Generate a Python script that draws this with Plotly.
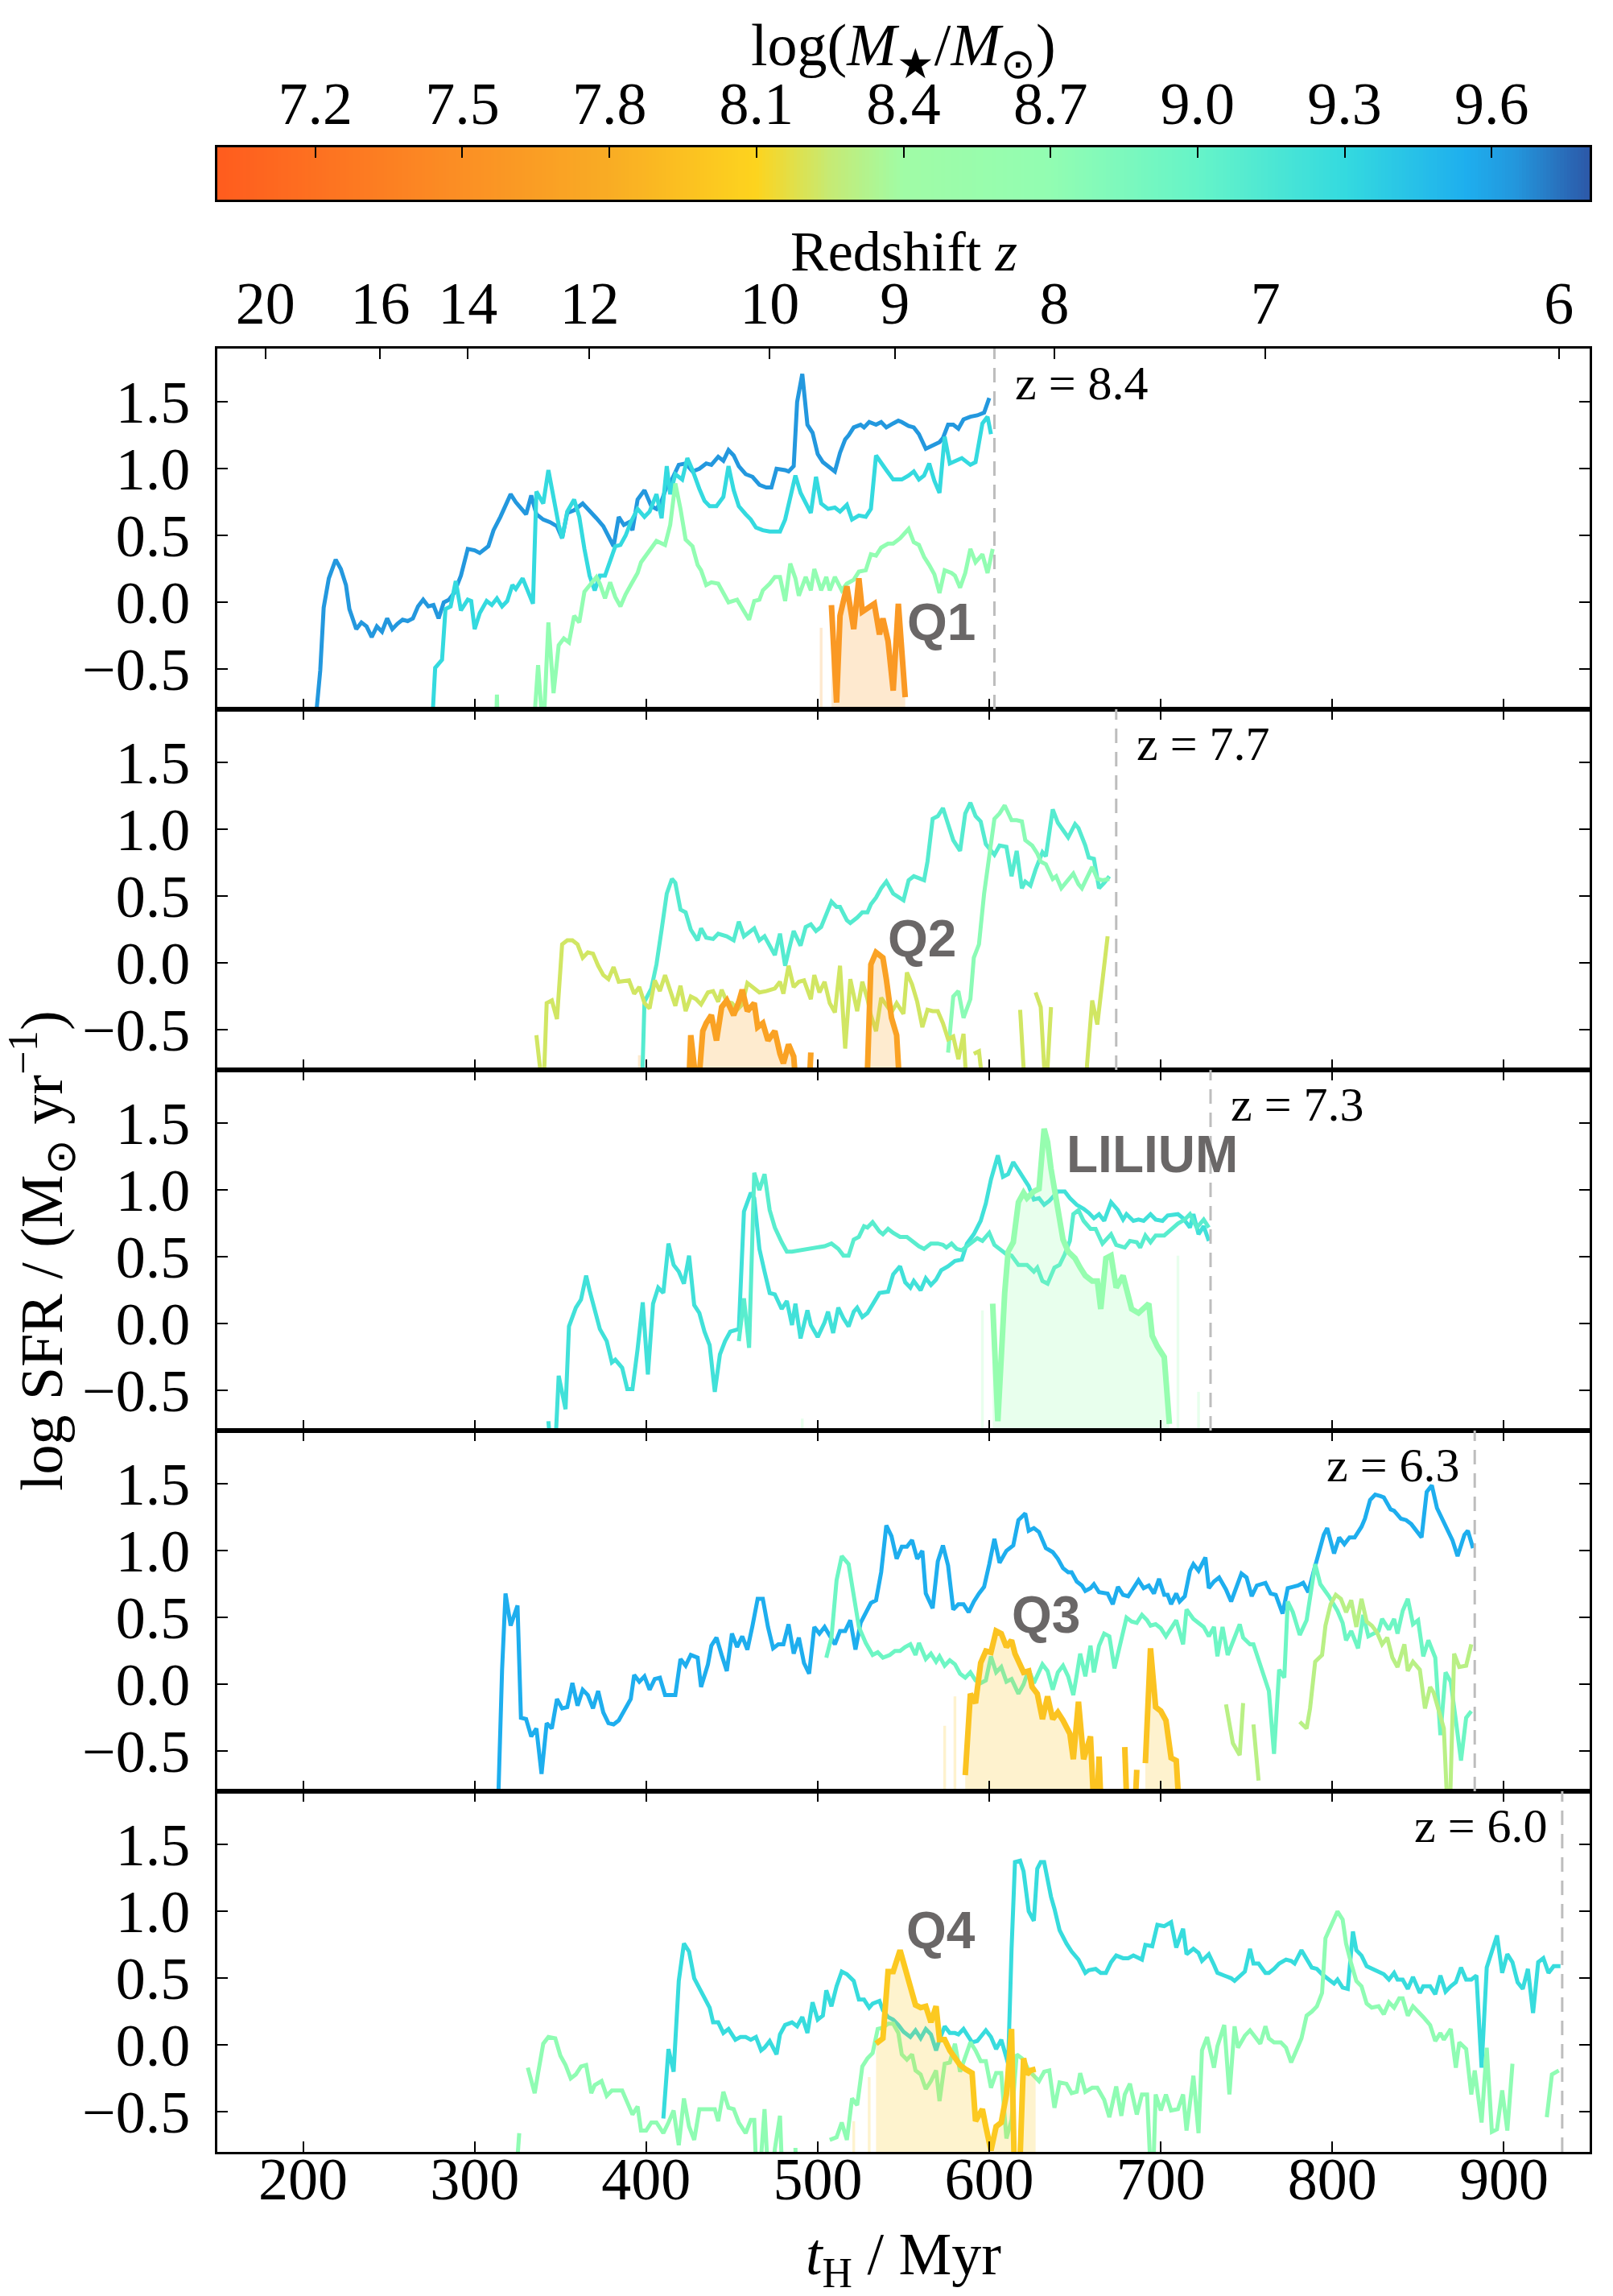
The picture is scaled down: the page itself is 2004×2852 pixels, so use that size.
import numpy as np
import plotly.graph_objects as go
from plotly.colors import sample_colorscale, unlabel_rgb

# ---------------------------------------------------------------
# Star-formation histories.
# Each series is a list of (t_H [Myr], log SFR [Msun/yr]);
# None marks a break in the track (SFR = 0 there).
# Thin lines: neighbour galaxies, thick line: the quenched galaxy.
# ---------------------------------------------------------------

# ---- panel 1 (snapshot z = 8.4) ----
p1_blue = [(205, -1.2), (210, -0.51), (212, -0.04), (215, 0.18), (219, 0.32), (222, 0.25), (225, 0.13),
           (227, -0.05), (231, -0.20), (234, -0.15), (237, -0.18), (240, -0.26), (243, -0.18), (246, -0.22),
           (249, -0.12), (252, -0.20), (255, -0.16), (258, -0.13), (261, -0.14), (264, -0.12), (267, -0.03),
           (270, 0.02), (273, -0.03), (276, -0.02), (279, -0.12), (282, 0.00), (285, 0.02), (288, 0.07),
           (292, 0.20), (294, 0.30), (296, 0.40), (300, 0.39), (303, 0.37), (308, 0.42), (311, 0.54),
           (315, 0.64), (318, 0.72), (321, 0.81), (324, 0.75), (327, 0.70), (330, 0.66), (333, 0.80),
           (336, 0.66), (340, 0.62), (344, 0.60), (348, 0.57), (351, 0.48), (354, 0.67), (358, 0.69),
           (363, 0.74), (367, 0.69), (371, 0.63), (375, 0.57), (378, 0.49), (381, 0.42), (384, 0.64),
           (387, 0.58), (390, 0.60), (392, 0.54), (395, 0.77), (399, 0.84), (403, 0.72), (406, 0.70),
           (409, 0.76), (412, 0.87), (415, 0.92), (419, 1.03), (423, 1.04), (427, 0.98), (431, 1.00),
           (435, 1.04), (438, 1.03), (442, 1.09), (445, 1.06), (448, 1.14), (451, 1.10), (454, 1.02),
           (458, 0.96), (462, 0.94), (466, 0.88), (470, 0.86), (473, 0.86), (476, 1.00), (481, 0.99),
           (483, 0.98), (486, 1.02), (488, 1.50), (491, 1.71), (494, 1.33), (497, 1.27), (500, 1.11),
           (503, 1.05), (507, 1.01), (510, 0.98), (513, 1.12), (516, 1.22), (518, 1.25), (521, 1.31),
           (525, 1.33), (527, 1.31), (530, 1.35), (534, 1.33), (537, 1.35), (540, 1.31), (544, 1.34),
           (547, 1.36), (549, 1.35), (553, 1.32), (556, 1.31), (559, 1.26), (563, 1.15), (566, 1.17),
           (571, 1.20), (573, 1.23), (576, 1.33), (579, 1.33), (582, 1.30), (585, 1.37), (589, 1.39),
           (593, 1.40), (597, 1.42), (600, 1.53)]
p1_cyan = [(274, -1.2), (277, -0.49), (281, -0.43), (283, -0.05), (286, -0.03), (289, 0.16), (292, -0.06),
           (296, 0.02), (298, 0.01), (300, -0.20), (303, -0.08), (307, 0.01), (310, -0.02), (313, 0.03),
           (316, -0.03), (319, 0.01), (322, 0.13), (324, 0.10), (328, 0.18), (331, 0.09), (334, -0.01),
           (336, 0.83), (340, 0.74), (343, 0.99), (346, 0.78), (349, 0.58), (351, 0.48), (354, 0.68),
           (358, 0.77), (361, 0.64), (364, 0.40), (367, 0.20), (370, 0.09), (373, 0.20), (376, 0.20),
           (379, 0.30), (382, 0.42), (385, 0.43), (388, 0.50), (391, 0.60), (395, 0.70), (399, 0.64),
           (402, 0.68), (406, 0.81), (409, 0.63), (412, 1.02), (414, 0.81), (417, 0.96), (421, 0.92),
           (424, 1.08), (427, 0.99), (431, 0.85), (434, 0.76), (437, 0.72), (441, 0.72), (445, 0.79),
           (448, 1.02), (451, 0.84), (454, 0.72), (458, 0.66), (461, 0.62), (464, 0.56), (468, 0.54),
           (472, 0.53), (478, 0.53), (481, 0.62), (484, 0.79), (487, 0.95), (490, 0.82), (493, 0.75),
           (496, 0.67), (499, 0.94), (502, 0.74), (506, 0.70), (510, 0.71), (513, 0.68), (517, 0.73),
           (520, 0.62), (524, 0.65), (528, 0.64), (531, 0.70), (534, 1.10), (538, 1.02), (540, 0.99),
           (544, 0.92), (549, 0.92), (553, 0.95), (556, 0.98), (559, 0.92), (562, 0.95), (565, 1.04),
           (568, 0.91), (571, 0.82), (574, 1.24), (577, 1.04), (580, 1.06), (584, 1.08), (589, 1.03),
           (592, 1.05), (596, 1.34), (599, 1.39), (601, 1.26)]
p1_green = [(312, -1.2), (313, -0.69), (314, -1.2), None,
            (333, -1.2), (337, -0.47), (340, -1.0), (343, -0.15), (346, -0.68), (349, -0.32), (352, -0.27),
            (355, -0.30), (358, -0.10), (361, -0.15), (364, 0.08), (368, 0.14), (371, 0.19), (373, 0.14),
            (376, 0.03), (379, 0.15), (382, 0.04), (385, -0.03), (388, 0.06), (391, 0.13), (395, 0.22),
            (397, 0.30), (400, 0.35), (404, 0.42), (406, 0.46), (411, 0.43), (414, 0.58), (417, 0.89),
            (420, 0.70), (423, 0.47), (427, 0.42), (430, 0.28), (432, 0.24), (435, 0.13), (438, 0.15),
            (442, 0.14), (444, 0.09), (448, 0.00), (453, 0.02), (457, -0.06), (460, -0.13), (463, 0.01),
            (466, 0.02), (468, 0.09), (472, 0.14), (475, 0.19), (478, 0.19), (481, 0.01), (484, 0.29),
            (487, 0.18), (489, 0.05), (493, 0.19), (496, 0.09), (498, 0.25), (502, 0.09), (505, 0.19),
            (507, 0.09), (510, 0.19), (514, 0.09), (517, 0.14), (521, 0.17), (524, 0.23), (528, 0.24),
            (531, 0.36), (534, 0.35), (537, 0.41), (541, 0.44), (544, 0.44), (548, 0.48), (553, 0.55),
            (556, 0.45), (559, 0.43), (562, 0.34), (565, 0.28), (568, 0.21), (571, 0.07), (574, 0.24),
            (578, 0.22), (580, 0.20), (583, 0.11), (586, 0.22), (589, 0.40), (592, 0.30), (596, 0.36),
            (599, 0.22), (602, 0.40)]
q1 = [(508, -0.02), (511, -0.75), (513, -0.10), (517, 0.12), (521, -0.20), (524, 0.18), (526, -0.07),
      (529, -0.04), (533, -0.01), (536, -0.24), (538, -0.12), (541, -0.29), (544, -0.66), (547, -0.01),
      (551, -0.71)]
q1_spikes = [(502, -0.19)]

# ---- panel 2 (snapshot z = 7.7) ----
p2_turq = [(397, -1.2), (399, -0.29), (403, -0.19), (406, -0.01), (409, 0.25), (412, 0.52), (415, 0.63),
           (417, 0.60), (420, 0.40), (423, 0.38), (426, 0.25), (430, 0.17), (432, 0.26), (435, 0.19),
           (439, 0.18), (442, 0.22), (447, 0.20), (451, 0.17), (454, 0.31), (457, 0.20), (463, 0.26),
           (466, 0.17), (469, 0.20), (475, 0.06), (478, 0.22), (481, -0.02), (484, 0.14), (486, 0.24),
           (490, 0.13), (493, 0.27), (496, 0.29), (499, 0.24), (502, 0.27), (508, 0.46), (511, 0.42),
           (513, 0.42), (517, 0.32), (519, 0.30), (523, 0.34), (526, 0.38), (529, 0.38), (531, 0.44),
           (534, 0.49), (537, 0.56), (540, 0.61), (544, 0.52), (550, 0.47), (553, 0.62), (556, 0.65),
           (562, 0.62), (564, 0.76), (567, 1.08), (570, 1.10), (573, 1.16), (576, 1.04), (579, 0.92),
           (583, 0.84), (586, 1.12), (589, 1.20), (592, 1.10), (595, 1.06), (598, 0.89), (603, 0.81),
           (606, 0.88), (610, 0.87), (613, 0.65), (616, 0.84), (619, 0.56), (621, 0.61), (624, 0.58),
           (627, 0.70), (631, 0.83), (633, 0.80), (637, 1.15), (640, 1.05), (643, 1.00), (646, 0.94),
           (650, 1.04), (652, 1.01), (656, 0.88), (658, 0.79), (661, 0.78), (664, 0.56), (667, 0.60),
           (670, 0.65)]
p2_green = [(576, -0.67), (579, -0.25), (582, -0.21), (585, -0.41), (589, -0.27), (591, 0.04), (594, 0.14),
            (597, 0.52), (600, 0.80), (603, 1.08), (606, 1.12), (609, 1.18), (613, 1.07), (616, 1.07),
            (619, 1.06), (621, 0.92), (625, 0.88), (628, 0.82), (630, 0.76), (633, 0.74), (637, 0.63),
            (639, 0.65), (642, 0.56), (646, 0.62), (649, 0.67), (652, 0.59), (654, 0.56), (657, 0.64),
            (660, 0.72), (663, 0.63), (666, 0.62), (670, 0.63)]
p2_lime = [(336, -0.54), (340, -1.0), (342, -0.30), (345, -0.28), (348, -0.42), (351, 0.14), (354, 0.17),
           (357, 0.17), (360, 0.14), (363, 0.04), (366, 0.08), (369, 0.07), (372, -0.02), (375, -0.09),
           (378, -0.12), (381, -0.03), (384, -0.14), (390, -0.13), (393, -0.23), (396, -0.18), (399, -0.30),
           (402, -0.34), (405, -0.13), (408, -0.21), (411, -0.09), (415, -0.25), (417, -0.32), (420, -0.17),
           (423, -0.36), (426, -0.25), (429, -0.27), (432, -0.31), (436, -0.22), (439, -0.21), (442, -0.29),
           (444, -0.20), (447, -0.29), (450, -0.30), (453, -0.35), (456, -0.31), (459, -0.15), (463, -0.19),
           (466, -0.22), (470, -0.21), (475, -0.19), (478, -0.14), (480, -0.23), (483, -0.02), (486, -0.18),
           (489, -0.14), (492, -0.13), (496, -0.27), (498, -0.09), (501, -0.22), (504, -0.14), (507, -0.30),
           (510, -0.37), (513, -0.02), (516, -0.64), (519, -0.12), (523, -0.36), (526, -0.14), (529, -0.27),
           (531, -0.39), (534, -0.51), (537, -0.26), (540, -0.32), (543, -0.37), (546, -0.30), (550, -0.38),
           (552, -0.07), (555, -0.16), (558, -0.29), (561, -0.48), (564, -0.35), (567, -0.36), (570, -0.36),
           (573, -0.45), (576, -0.57), (579, -0.55), (582, -0.72), (585, -0.53), (588, -1.2), None,
           (591, -0.68), (594, -0.66), (597, -1.0), None,
           (618, -0.35), (621, -1.0), None,
           (627, -0.22), (630, -0.33), (633, -1.0), (636, -0.33), None,
           (656, -1.2), (657, -0.76), (660, -0.28), (663, -0.46), (669, 0.20)]
q2 = [(424, -1.2), (426, -0.54), (430, -1.0), (433, -0.51), (435, -0.45), (438, -0.39), (441, -0.58),
      (444, -0.33), (447, -0.28), (451, -0.39), (454, -0.29), (456, -0.20), (459, -0.36), (463, -0.30),
      (465, -0.48), (468, -0.45), (471, -0.58), (475, -0.51), (478, -0.68), (480, -0.75), (483, -0.61),
      (486, -0.70), (489, -1.2), None,
      (494, -1.2), (496, -0.67), None,
      (528, -1.2), (531, -0.01), (534, 0.08), (538, 0.04), (540, -0.12), (543, -0.41), (546, -0.54),
      (549, -1.2)]
q2_spikes = [(396, -0.69)]

# ---- panel 3 (snapshot z = 7.3) ----
p3_cyan = [(343, -0.73), (346, -1.2), (349, -0.39), (353, -0.64), (355, -0.02), (359, 0.12), (362, 0.18),
           (365, 0.36), (367, 0.25), (371, 0.05), (373, -0.04), (377, -0.13), (380, -0.29), (382, -0.27),
           (386, -0.33), (389, -0.49), (392, -0.49), (395, -0.19), (398, 0.16), (401, -0.38), (404, 0.15),
           (407, 0.27), (410, 0.23), (413, 0.60), (416, 0.44), (419, 0.39), (422, 0.30), (425, 0.51),
           (428, 0.14), (431, 0.08), (434, -0.06), (437, -0.16), (440, -0.51), (443, -0.23), (446, -0.13),
           (449, -0.06), (454, -0.04), (457, 0.84), (461, 0.98), (463, 0.94), (466, 0.56), (469, 0.39),
           (472, 0.23), (475, 0.22), (479, 0.11), (482, 0.17), (485, -0.01), (487, 0.15), (490, -0.11),
           (494, 0.10), (496, -0.01), (500, -0.10), (504, 0.01), (506, 0.09), (509, -0.07), (512, 0.12),
           (515, 0.04), (518, -0.02), (521, 0.09), (523, 0.12), (526, 0.05), (529, 0.08), (532, 0.15),
           (536, 0.23), (541, 0.24), (544, 0.37), (548, 0.43), (551, 0.31), (554, 0.27), (556, 0.32),
           (560, 0.25), (563, 0.34), (566, 0.29), (569, 0.33), (572, 0.40), (576, 0.43), (580, 0.47),
           (584, 0.48), (587, 0.60), (591, 0.67), (595, 0.77), (598, 0.90), (601, 1.08), (605, 1.26),
           (608, 1.10), (611, 1.12), (614, 1.21), (617, 1.15), (620, 1.10), (623, 1.03), (626, 0.93),
           (629, 0.94), (632, 0.89), (635, 0.92), (640, 0.99), (644, 0.99), (647, 0.94), (651, 0.89),
           (655, 0.86), (658, 0.83), (661, 0.79), (664, 0.82), (667, 0.77), (671, 0.91), (675, 0.85),
           (678, 0.78), (680, 0.82), (684, 0.77), (687, 0.78), (690, 0.77), (694, 0.82), (697, 0.78),
           (701, 0.77), (704, 0.81), (710, 0.82), (713, 0.79), (717, 0.72), (719, 0.82), (722, 0.67),
           (725, 0.73), (728, 0.62)]
p3_turq = [(454, -0.13), (457, 0.19), (460, -0.18), (463, 1.13), (466, 1.00), (469, 1.12), (472, 0.85),
           (475, 0.72), (479, 0.61), (482, 0.54), (485, 0.54), (490, 0.55), (496, 0.56), (500, 0.57),
           (504, 0.58), (508, 0.60), (512, 0.56), (515, 0.51), (518, 0.51), (521, 0.63), (524, 0.65),
           (527, 0.73), (529, 0.72), (532, 0.76), (536, 0.69), (538, 0.67), (541, 0.71), (544, 0.68),
           (548, 0.65), (552, 0.65), (556, 0.61), (559, 0.58), (562, 0.56), (566, 0.60), (570, 0.60),
           (573, 0.59), (575, 0.57), (578, 0.60), (581, 0.56), (584, 0.55), (588, 0.59), (593, 0.64),
           (596, 0.62), (600, 0.68), (603, 0.59), (607, 0.55), (610, 0.52), (613, 0.51), (617, 0.44),
           (622, 0.44), (626, 0.39), (628, 0.42), (631, 0.32), (634, 0.30), (638, 0.42), (641, 0.44),
           (644, 0.52), (647, 0.62), (649, 0.82), (652, 0.85), (655, 0.77), (659, 0.71), (662, 0.71),
           (666, 0.60), (671, 0.67), (674, 0.59), (679, 0.57), (682, 0.62), (686, 0.61), (688, 0.57),
           (691, 0.66), (694, 0.61), (697, 0.66), (702, 0.66), (706, 0.71), (710, 0.75), (714, 0.78),
           (717, 0.82), (721, 0.72), (725, 0.78), (728, 0.72)]
lilium = [(602, 0.15), (605, -0.73), (609, 0.23), (611, 0.54), (614, 0.61), (617, 0.91), (620, 0.98),
          (622, 0.94), (626, 0.99), (629, 1.01), (632, 1.46), (634, 1.36), (636, 1.16), (640, 0.84),
          (643, 0.63), (646, 0.54), (650, 0.49), (653, 0.42), (656, 0.36), (660, 0.32), (663, 0.32),
          (665, 0.11), (668, 0.49), (671, 0.51), (674, 0.27), (678, 0.36), (680, 0.27), (683, 0.11),
          (687, 0.08), (690, 0.11), (693, 0.15), (695, -0.09), (698, -0.17), (702, -0.25), (705, -0.75)]
lilium_spikes = [(491, -0.71), (596, 0.10), (710, 0.51), (722, -0.51)]

# ---- panel 4 (snapshot z = 6.3) ----
p4_blue = [(313, -1.2), (316, 0.11), (318, 0.68), (321, 0.44), (325, 0.59), (327, -0.25), (330, -0.26),
           (333, -0.39), (336, -0.33), (339, -0.67), (342, -0.29), (345, -0.33), (348, -0.11), (351, -0.18),
           (354, -0.17), (357, 0.01), (360, -0.16), (363, -0.04), (366, -0.08), (369, -0.18), (372, -0.05),
           (375, -0.21), (378, -0.29), (381, -0.30), (384, -0.27), (387, -0.20), (391, -0.11), (393, 0.07),
           (396, 0.02), (399, 0.06), (402, -0.04), (405, 0.04), (408, 0.05), (411, -0.08), (417, -0.08),
           (420, 0.19), (423, 0.14), (426, 0.22), (430, 0.20), (432, -0.02), (436, 0.15), (438, 0.29),
           (441, 0.35), (444, 0.22), (447, 0.10), (450, 0.38), (453, 0.28), (456, 0.36), (459, 0.26),
           (462, 0.44), (465, 0.64), (468, 0.64), (471, 0.43), (474, 0.27), (477, 0.30), (480, 0.30),
           (483, 0.45), (486, 0.23), (489, 0.35), (492, 0.16), (495, 0.08), (498, 0.43), (501, 0.38),
           (504, 0.43), (507, 0.37), (510, 0.30), (513, 0.40), (516, 0.40), (519, 0.48), (522, 0.26),
           (525, 0.46), (528, 0.53), (531, 0.61), (534, 0.63), (537, 0.84), (540, 1.19), (543, 1.11),
           (546, 0.94), (549, 1.03), (552, 1.03), (555, 1.08), (558, 0.94), (561, 1.00), (563, 0.68),
           (567, 0.57), (570, 0.92), (573, 1.04), (576, 0.89), (579, 0.56), (582, 0.60), (585, 0.60),
           (588, 0.54), (591, 0.62), (594, 0.68), (597, 0.73), (600, 0.90), (603, 1.09), (606, 0.91),
           (610, 1.00), (614, 1.04), (617, 1.23), (621, 1.28), (623, 1.15), (626, 1.17), (629, 1.14),
           (633, 1.02), (637, 0.99), (640, 0.94), (643, 0.87), (646, 0.84), (648, 0.84), (651, 0.77),
           (654, 0.74), (656, 0.70), (659, 0.72), (661, 0.75), (664, 0.69), (669, 0.68), (672, 0.60),
           (675, 0.73), (678, 0.67), (681, 0.66), (684, 0.72), (687, 0.78), (690, 0.72), (693, 0.74),
           (696, 0.68), (699, 0.79), (702, 0.67), (704, 0.67), (706, 0.60), (709, 0.68), (711, 0.62),
           (714, 0.66), (717, 0.85), (719, 0.90), (722, 0.85), (726, 0.95), (728, 0.72), (731, 0.77),
           (734, 0.80), (736, 0.76), (738, 0.71), (741, 0.62), (744, 0.73), (747, 0.83), (750, 0.80),
           (753, 0.66), (756, 0.74), (758, 0.75), (761, 0.76), (764, 0.68), (767, 0.67), (771, 0.53),
           (774, 0.72), (777, 0.73), (780, 0.74), (783, 0.76), (786, 0.69), (789, 0.84), (792, 0.98),
           (795, 1.12), (797, 1.17), (801, 0.98), (804, 1.10), (807, 1.05), (810, 1.10), (813, 1.10),
           (817, 1.18), (819, 1.24), (822, 1.38), (825, 1.42), (828, 1.41), (830, 1.40), (834, 1.31),
           (836, 1.30), (840, 1.24), (843, 1.23), (846, 1.20), (849, 1.15), (852, 1.10), (855, 1.44),
           (858, 1.49), (861, 1.32), (864, 1.24), (867, 1.16), (870, 1.08), (873, 0.96), (877, 1.12),
           (879, 1.15), (882, 1.02)]
p4_aqua = [(505, 0.20), (508, 0.35), (511, 0.78), (514, 0.96), (518, 0.90), (521, 0.64), (524, 0.43),
           (528, 0.31), (532, 0.22), (535, 0.24), (538, 0.20), (542, 0.22), (545, 0.25), (548, 0.25),
           (551, 0.28), (554, 0.30), (557, 0.22), (559, 0.31), (563, 0.19), (566, 0.23), (569, 0.17),
           (571, 0.21), (574, 0.14), (577, 0.18), (580, 0.15), (583, 0.08), (586, 0.05), (589, 0.09),
           (592, 0.03), (595, 0.01), (598, 0.03), (601, 0.21), (604, 0.09), (607, 0.13), (610, 0.02),
           (613, 0.04), (617, -0.07), (620, 0.00), (623, 0.11), (626, 0.01), (629, 0.10), (631, 0.15),
           (634, 0.10), (637, -0.04), (640, 0.09), (643, 0.14), (646, 0.06), (649, -0.08), (651, 0.07),
           (653, 0.23), (656, 0.06), (659, 0.29), (661, 0.09), (664, 0.29), (667, 0.38), (670, 0.36),
           (673, 0.12), (677, 0.35), (680, 0.50), (683, 0.47), (686, 0.46), (689, 0.52), (692, 0.48),
           (694, 0.44), (697, 0.45), (700, 0.42), (703, 0.36), (706, 0.42), (709, 0.48), (713, 0.30),
           (715, 0.56), (719, 0.49), (722, 0.46), (725, 0.43), (728, 0.36), (731, 0.43), (733, 0.21),
           (736, 0.43), (739, 0.22), (742, 0.32), (746, 0.45), (748, 0.35), (752, 0.30), (754, 0.30),
           (757, 0.18), (760, 0.08), (763, -0.05), (766, -0.52), (769, 0.11), (772, 0.05), (774, 0.62),
           (777, 0.54), (781, 0.37), (785, 0.48), (788, 0.72), (790, 0.90), (793, 0.75), (798, 0.66),
           (803, 0.55), (806, 0.46), (808, 0.33), (811, 0.40), (815, 0.27), (818, 0.52), (821, 0.36),
           (824, 0.38), (827, 0.40), (829, 0.49), (833, 0.41), (836, 0.49), (838, 0.38), (841, 0.55),
           (844, 0.64), (847, 0.45), (850, 0.48), (853, 0.21), (856, 0.33), (860, 0.20), (863, -0.38),
           (866, 0.09), (869, 0.02), (872, -0.27), (875, -0.57), (878, -0.25), (881, -0.20)]
p4_lime = [(738, -0.15), (742, -0.44), (746, -0.53), (748, -0.14), None,
           (754, -0.30), (757, -0.72), None,
           (781, -0.28), (785, -0.33), (787, -0.18), (790, 0.17), (794, 0.22), (796, 0.44), (799, 0.60),
           (802, 0.67), (805, 0.64), (808, 0.54), (811, 0.63), (814, 0.43), (817, 0.64), (820, 0.47),
           (823, 0.44), (826, 0.39), (829, 0.30), (832, 0.35), (835, 0.20), (838, 0.13), (842, 0.30),
           (844, 0.10), (847, 0.17), (851, 0.11), (854, -0.18), (857, -0.02), (859, -0.06), (862, -0.21),
           (865, -0.33), (868, -1.2), (871, 0.23), (874, 0.13), (878, 0.14), (881, 0.30)]
q3 = [(586, -0.68), (589, -0.07), (592, -0.14), (595, 0.16), (598, 0.25), (601, 0.24), (604, 0.40),
      (607, 0.38), (610, 0.28), (613, 0.33), (615, 0.23), (618, 0.13), (620, 0.09), (623, 0.10),
      (625, -0.02), (628, -0.07), (631, -0.26), (634, -0.09), (637, -0.26), (640, -0.21), (643, -0.27),
      (647, -0.37), (649, -0.56), (652, -0.13), (655, -0.56), (659, -0.39), (662, -1.2), (664, -0.54),
      (666, -1.2), None,
      (679, -0.47), (681, -1.2), None,
      (684, -1.2), (686, -0.64), None,
      (691, -0.59), (694, 0.27), (697, -0.17), (700, -0.20), (703, -0.27), (706, -0.55), (709, -0.57),
      (712, -1.2)]
q3_spikes = [(574, -0.31), (580, -0.09)]

# ---- panel 5 (snapshot z = 6.0) ----
p5_cyan = [(410, -0.55), (413, -0.03), (416, -0.20), (419, 0.48), (422, 0.76), (425, 0.70), (428, 0.50),
           (431, 0.43), (434, 0.35), (437, 0.28), (439, 0.17), (442, 0.17), (445, 0.09), (448, 0.12),
           (452, 0.04), (455, 0.06), (458, 0.06), (461, 0.04), (464, 0.06), (467, -0.04), (469, -0.02),
           (472, 0.03), (476, -0.07), (478, 0.08), (481, 0.15), (485, 0.17), (488, 0.14), (491, 0.21),
           (494, 0.09), (497, 0.32), (500, 0.19), (503, 0.22), (505, 0.41), (508, 0.29), (511, 0.44),
           (514, 0.55), (517, 0.53), (521, 0.48), (524, 0.34), (527, 0.34), (530, 0.28), (532, 0.31),
           (536, 0.33), (538, 0.26), (541, 0.21), (544, 0.19), (547, 0.15), (550, 0.10), (554, 0.06),
           (557, 0.11), (560, 0.05), (563, 0.12), (566, 0.08), (569, -0.04), (571, 0.04), (574, 0.14),
           (577, 0.09), (580, 0.09), (582, 0.08), (585, 0.12), (588, 0.06), (590, 0.02), (593, 0.03),
           (596, 0.08), (598, 0.11), (601, 0.06), (604, -0.03), (607, 0.04), (611, -0.14), (613, 0.72),
           (615, 1.37), (618, 1.38), (620, 1.30), (623, 1.00), (626, 0.93), (628, 1.32), (630, 1.37),
           (632, 1.37), (636, 1.11), (638, 1.02), (641, 0.86), (645, 0.76), (648, 0.70), (652, 0.64),
           (656, 0.54), (658, 0.56), (662, 0.57), (665, 0.54), (668, 0.54), (671, 0.62), (674, 0.67),
           (678, 0.65), (681, 0.65), (684, 0.67), (689, 0.64), (691, 0.75), (695, 0.74), (698, 0.90),
           (702, 0.89), (706, 0.92), (709, 0.73), (713, 0.87), (715, 0.68), (719, 0.72), (722, 0.69),
           (724, 0.63), (728, 0.68), (731, 0.60), (733, 0.54), (737, 0.52), (741, 0.50), (743, 0.48),
           (746, 0.52), (749, 0.55), (752, 0.72), (754, 0.61), (757, 0.61), (761, 0.54), (763, 0.54),
           (766, 0.57), (769, 0.61), (773, 0.64), (776, 0.63), (778, 0.61), (782, 0.71), (785, 0.64),
           (788, 0.58), (791, 0.57), (794, 0.53), (798, 0.49), (801, 0.46), (803, 0.49), (806, 0.43),
           (809, 0.42), (812, 0.85), (814, 0.71), (817, 0.67), (820, 0.59), (823, 0.57), (827, 0.55),
           (830, 0.53), (833, 0.49), (836, 0.54), (838, 0.49), (841, 0.49), (844, 0.42), (847, 0.51),
           (851, 0.39), (853, 0.44), (857, 0.44), (860, 0.38), (863, 0.52), (866, 0.40), (869, 0.44),
           (872, 0.47), (875, 0.58), (878, 0.49), (881, 0.49), (884, 0.52), (887, -0.17), (890, 0.58),
           (893, 0.70), (896, 0.82), (899, 0.54), (902, 0.68), (905, 0.62), (908, 0.47), (911, 0.42),
           (914, 0.57), (917, 0.24), (920, 0.62), (923, 0.65), (926, 0.54), (929, 0.59), (933, 0.59)]
p5_green = [(323, -1.2), (326, -0.66), None,
            (331, -0.17), (335, -0.36), (337, -0.21), (340, 0.01), (343, 0.06), (347, 0.05), (350, -0.08),
            (353, -0.15), (356, -0.25), (359, -0.22), (362, -0.16), (365, -0.15), (368, -0.36), (370, -0.30),
            (374, -0.27), (377, -0.38), (380, -0.34), (383, -0.34), (386, -0.34), (389, -0.43), (392, -0.52),
            (395, -0.46), (397, -0.64), (400, -0.64), (403, -0.58), (406, -0.58), (410, -0.66), (413, -0.58),
            (416, -0.49), (419, -0.75), (422, -0.40), (425, -0.61), (428, -0.71), (431, -0.48), (434, -0.48),
            (437, -0.48), (440, -0.48), (442, -0.57), (445, -0.35), (448, -0.47), (451, -0.48), (454, -0.58),
            (458, -0.66), (461, -0.56), (463, -0.56), (465, -1.2), (469, -0.48), (472, -1.2), (475, -0.78),
            (478, -0.53), (480, -1.2), None,
            (487, -0.77), (488, -1.2), None,
            (507, -0.71), (511, -0.69), (514, -0.58), (517, -0.71), (520, -0.40), (523, -0.45), (526, -0.16),
            (529, -0.10), (532, -0.06), (535, 0.12), (538, 0.13), (541, 0.16), (544, 0.16), (547, 0.09),
            (549, -0.07), (552, -0.11), (555, -0.07), (557, -0.19), (560, -0.22), (563, -0.33), (566, -0.27),
            (569, -0.19), (571, -0.42), (574, -0.14), (577, -0.13), (580, 0.01), (583, -0.20), (586, -0.09),
            (589, 0.02), (592, -0.04), (595, -0.12), (598, -0.12), (601, -0.32), (604, -0.21), (607, -0.21),
            (610, -0.70), (613, -0.56), (616, -0.07), (620, -0.11), (623, -0.19), (627, -0.25), (629, -0.27),
            (632, -0.20), (635, -0.19), (638, -0.47), (641, -0.28), (645, -0.29), (648, -0.36), (651, -0.35),
            (653, -0.21), (656, -0.35), (660, -0.32), (663, -0.32), (667, -0.41), (670, -0.54), (674, -0.31),
            (677, -0.53), (679, -0.37), (682, -0.29), (686, -0.52), (689, -0.37), (692, -0.37), (695, -1.2),
            (697, -0.37), (700, -0.49), (703, -0.37), (706, -0.49), (710, -0.48), (713, -0.37), (715, -0.64),
            (719, -0.23), (722, -0.66), (724, -0.04), (727, 0.06), (731, -0.17), (733, -0.01), (737, 0.15),
            (740, -0.37), (743, 0.14), (745, -0.02), (749, 0.07), (752, 0.11), (755, 0.06), (758, 0.01),
            (761, 0.14), (763, 0.05), (766, 0.02), (770, 0.02), (773, -0.02), (776, -0.13), (779, -0.04),
            (782, 0.05), (785, 0.22), (788, 0.25), (791, 0.29), (794, 0.39), (796, 0.80), (799, 0.88),
            (803, 1.00), (806, 0.94), (808, 0.76), (811, 0.61), (814, 0.48), (817, 0.44), (820, 0.31),
            (823, 0.28), (827, 0.29), (830, 0.23), (833, 0.32), (836, 0.28), (839, 0.35), (841, 0.35),
            (844, 0.22), (847, 0.29), (851, 0.24), (853, 0.21), (857, 0.15), (860, 0.03), (863, 0.09),
            (865, 0.04), (869, 0.12), (872, -0.17), (874, 0.02), (878, -0.03), (881, -0.37), (883, -0.19),
            (887, -0.58), (890, -0.02), (893, -0.65), (896, -0.63), (899, -0.34), (902, -0.64), (905, -0.14),
            None,
            (925, -0.54), (928, -0.22), (932, -0.19)]
q4 = [(534, 0.01), (538, 0.05), (541, 0.55), (544, 0.55), (548, 0.71), (551, 0.56), (554, 0.43), (557, 0.30),
      (560, 0.28), (563, 0.29), (566, 0.17), (569, 0.29), (571, 0.04), (574, 0.04), (577, -0.04), (580, -0.09),
      (583, -0.15), (586, -0.18), (590, -0.21), (592, -0.57), (596, -0.48), (598, -0.61), (601, -0.79),
      (604, -0.61), (607, -0.58), (610, -0.37), (613, 0.12), (615, -1.2), (617, -1.2), (620, -0.10),
      (622, -0.22), (624, -0.19), (627, -0.18)]
q4_spikes = [(521, -0.57), (530, -0.24)]

# stellar masses log(M*/Msun) that set the line colours
p1_masses = [9.64, 9.30, 8.70]
p2_masses = [9.10, 8.75, 8.22]
p3_masses = [9.22, 9.08]
p4_masses = [9.55, 8.95, 8.30]
p5_masses = [9.28, 8.72]
q_masses = [7.60, 7.70, 8.62, 7.97, 8.02]

# snapshot of each panel
snap_t = [603, 674, 729, 883, 934]
snap_z = ["8.4", "7.7", "7.3", "6.3", "6.0"]
q_names = ["Q1", "Q2", "LILIUM", "Q3", "Q4"]

# axes
t_ticks = [200, 300, 400, 500, 600, 700, 800, 900]
sfr_ticks = [-0.5, 0.0, 0.5, 1.0, 1.5]
z_labels = ["20", "16", "14", "12", "10", "9", "8", "7", "6"]
z_times = [178, 245, 296, 367, 472, 545, 638, 761, 932]
cbar_ticks = [7.2, 7.5, 7.8, 8.1, 8.4, 8.7, 9.0, 9.3, 9.6]

# ---------------------------------------------------------------
T_MIN, T_MAX = 150, 950
Y_MIN, Y_MAX = -0.8, 1.9
MASS_MIN, MASS_MAX = 7.0, 9.8
FILL_FLOOR = -2.0

mass_scale = [
    [0.0, "#ff5c1e"], [0.1786, "#fb8f24"], [0.2857, "#f9ac24"], [0.3929, "#fdd41e"],
    [0.4464, "#c6ea74"], [0.5, "#a0fca6"], [0.6071, "#92fdb2"], [0.7143, "#66f4c8"],
    [0.8214, "#34dadf"], [0.9107, "#1eaeee"], [0.9464, "#2396dc"], [1.0, "#2c58a8"],
]


def mass_color(m, alpha=None):
    c = sample_colorscale(mass_scale, [(m - MASS_MIN) / (MASS_MAX - MASS_MIN)])[0]
    r, g, b = unlabel_rgb(c)
    if alpha is None:
        return f"rgb({r:.0f},{g:.0f},{b:.0f})"
    return f"rgba({r:.0f},{g:.0f},{b:.0f},{alpha})"


def unzip(series):
    xs = [p[0] if p else None for p in series]
    ys = [p[1] if p else None for p in series]
    return xs, ys


def fill_polygon(series):
    # outline of the area under a track, dropped to the floor at every break
    xs, ys = [], []
    gap = True
    for p in series:
        if p is None:
            xs.append(xs[-1])
            ys.append(FILL_FLOOR)
            gap = True
            continue
        if gap:
            xs.append(p[0])
            ys.append(FILL_FLOOR)
            gap = False
        xs.append(p[0])
        ys.append(p[1])
    xs.append(xs[-1])
    ys.append(FILL_FLOOR)
    return xs, ys


panels = [
    dict(thin=[p1_blue, p1_cyan, p1_green], masses=p1_masses, q=q1, spikes=q1_spikes),
    dict(thin=[p2_turq, p2_green, p2_lime], masses=p2_masses, q=q2, spikes=q2_spikes),
    dict(thin=[p3_cyan, p3_turq], masses=p3_masses, q=lilium, spikes=lilium_spikes),
    dict(thin=[p4_blue, p4_aqua, p4_lime], masses=p4_masses, q=q3, spikes=q3_spikes),
    dict(thin=[p5_cyan, p5_green], masses=p5_masses, q=q4, spikes=q4_spikes),
]

# label placement (data coordinates of each panel)
q_label_pos = [(572, -0.15), (561, 0.18), (695, 1.27), (633, 0.52), (572, 0.86)]
Z_LABEL_Y = 1.64

# ---------------- page geometry (pixels) ----------------
FIG_W, FIG_H = 2004, 2852
M_L, M_R, M_T, M_B = 270, 29, 100, 179
PANEL_TOP, PANEL_H = 433, 448
CBAR_TOP, CBAR_BOT = 183, 248
PLOT_H = FIG_H - M_T - M_B
PLOT_W = FIG_W - M_L - M_R
BOTTOM_PX = FIG_H - M_B


def py(px):
    return (BOTTOM_PX - px) / PLOT_H


def px_x(px):
    return (px - M_L) / PLOT_W


fig = go.Figure()
layout = {}
annotations = []
shapes = []

axis_common = dict(showgrid=False, zeroline=False, showline=True, linewidth=3, linecolor="black",
                   ticks="inside", ticklen=13, tickwidth=2, tickcolor="black")

for i, pan in enumerate(panels):
    k = "" if i == 0 else str(i + 1)
    xref, yref = "x" + k, "y" + k

    # neighbour galaxies
    for series, m in zip(pan["thin"], pan["masses"]):
        xs, ys = unzip(series)
        fig.add_trace(go.Scatter(x=xs, y=ys, mode="lines", xaxis=xref, yaxis=yref,
                                 line=dict(color=mass_color(m), width=5), hoverinfo="skip"))

    qm = q_masses[i]
    # shaded history of the quenched galaxy
    fx, fy = fill_polygon(pan["q"])
    fig.add_trace(go.Scatter(x=fx, y=fy, mode="lines", fill="toself", xaxis=xref, yaxis=yref,
                             fillcolor=mass_color(qm, 0.22), line=dict(width=0), hoverinfo="skip"))
    st, sv = unzip(pan["spikes"])
    fig.add_trace(go.Bar(x=st, y=[v - Y_MIN for v in sv], base=Y_MIN, width=1.6, xaxis=xref, yaxis=yref,
                         marker=dict(color=mass_color(qm, 0.22), line=dict(width=0)), hoverinfo="skip"))
    xs, ys = unzip(pan["q"])
    fig.add_trace(go.Scatter(x=xs, y=ys, mode="lines", xaxis=xref, yaxis=yref,
                             line=dict(color=mass_color(qm), width=7), hoverinfo="skip"))

    top = PANEL_TOP + i * PANEL_H
    layout["xaxis" + k] = dict(axis_common, domain=[0, 1], anchor=yref, range=[T_MIN, T_MAX],
                               tickvals=t_ticks, mirror=True if i == 0 else "ticks",
                               showticklabels=(i == len(panels) - 1), ticklabelstandoff=-33)
    layout["yaxis" + k] = dict(axis_common, domain=[py(top + PANEL_H), py(top)], anchor=xref,
                               range=[Y_MIN, Y_MAX], tickvals=sfr_ticks, tickformat=".1f",
                               mirror="ticks", ticklabelstandoff=16)

    # snapshot marker
    shapes.append(dict(type="line", xref=xref, yref=yref + " domain", x0=snap_t[i], x1=snap_t[i],
                       y0=0, y1=1, line=dict(color="#bdbdbd", width=3, dash="18px,11px")))
    if i < 3:
        annotations.append(dict(xref=xref, yref=yref, x=snap_t[i] + 11, y=Z_LABEL_Y, xanchor="left",
                                yanchor="middle", showarrow=False, text="z = " + snap_z[i],
                                font=dict(size=60, family="Liberation Serif", color="black")))
    else:
        annotations.append(dict(xref=xref, yref=yref, x=snap_t[i] - 8, y=Z_LABEL_Y, xanchor="right",
                                yanchor="middle", showarrow=False, text="z = " + snap_z[i],
                                font=dict(size=60, family="Liberation Serif", color="black")))
    qx, qy = q_label_pos[i]
    annotations.append(dict(xref=xref, yref=yref, x=qx, y=qy, xanchor="center", yanchor="middle",
                            showarrow=False, text="<b>" + q_names[i] + "</b>",
                            font=dict(size=64, family="Liberation Sans", color="#6a6767")))

# redshift axis on top of the first panel
fig.add_trace(go.Scatter(x=z_times, y=[None] * len(z_times), xaxis="x7", yaxis="y",
                         mode="lines", hoverinfo="skip"))
layout["xaxis7"] = dict(overlaying="x", anchor="y", side="top", range=[T_MIN, T_MAX],
                        tickvals=z_times, ticktext=z_labels, showgrid=False, zeroline=False,
                        showline=False, ticks="inside", ticklen=13, tickwidth=2, tickcolor="black",
                        ticklabelstandoff=15)

# stellar-mass colour bar
mass_grid = np.linspace(MASS_MIN, MASS_MAX, 400)
fig.add_trace(go.Heatmap(x=mass_grid, y=[0], z=[mass_grid], colorscale=mass_scale, zmin=MASS_MIN,
                         zmax=MASS_MAX, showscale=False, xaxis="x6", yaxis="y6", hoverinfo="skip"))
layout["xaxis6"] = dict(axis_common, domain=[0, 1], anchor="y6", side="top", range=[MASS_MIN, MASS_MAX],
                        tickvals=cbar_ticks, tickformat=".1f", mirror=True, ticklabelstandoff=-4)
layout["yaxis6"] = dict(domain=[py(CBAR_BOT), py(CBAR_TOP)], anchor="x6", range=[-0.5, 0.5],
                        showticklabels=False, ticks="", showgrid=False, zeroline=False,
                        showline=True, linewidth=3, linecolor="black", mirror=True)

# titles
annotations += [
    dict(xref="paper", yref="paper", x=0.5, y=py(62), xanchor="center", yanchor="middle", showarrow=False,
         text="log(<i>M</i><sub>★</sub>/<i>M</i><sub>⊙</sub>)", font=dict(size=74)),
    dict(xref="paper", yref="paper", x=0.5, y=py(313), xanchor="center", yanchor="middle", showarrow=False,
         text="Redshift <i>z</i>", font=dict(size=70)),
    dict(xref="paper", yref="paper", x=0.5, y=py(2805), xanchor="center", yanchor="middle", showarrow=False,
         text="<i>t</i><sub>H</sub> / Myr", font=dict(size=74)),
    dict(xref="paper", yref="paper", x=px_x(52), y=py(1553), xanchor="center", yanchor="middle",
         showarrow=False, textangle=-90, text="log SFR / (M<sub>⊙</sub> yr<sup>−1</sup>)",
         font=dict(size=74)),
]

fig.update_layout(
    width=FIG_W, height=FIG_H,
    margin=dict(l=M_L, r=M_R, t=M_T, b=M_B, pad=0),
    paper_bgcolor="white", plot_bgcolor="rgba(0,0,0,0)",
    showlegend=False,
    font=dict(family="Liberation Serif", size=74, color="black"),
    annotations=annotations, shapes=shapes,
    **layout,
)

fig.write_html("out.html", config={"displayModeBar": False},
               post_script="document.body.style.margin = '0px';")
